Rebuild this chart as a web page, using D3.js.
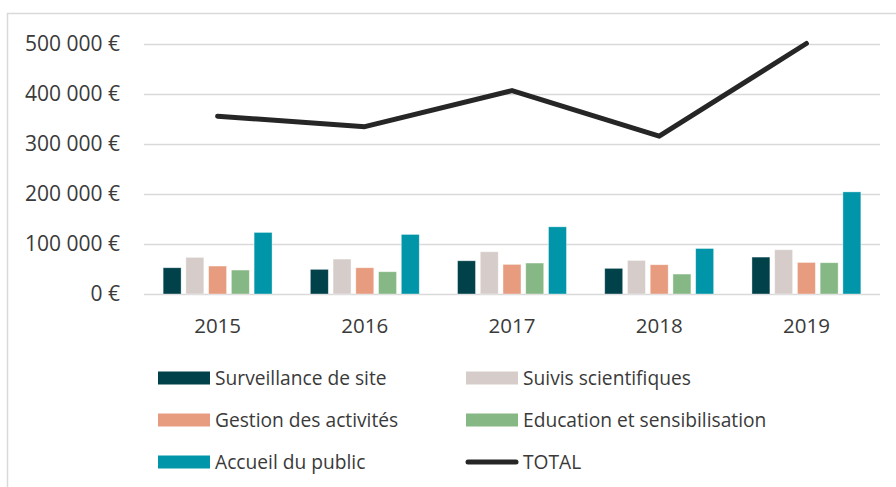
<!DOCTYPE html>
<html>
<head>
<meta charset="utf-8">
<script src="https://cdn.jsdelivr.net/npm/d3@7"></script>
<style>
  body { margin: 0; background: #fff; }
  svg { display: block; }
</style>
</head>
<body>
<script>
var annees = ["2015", "2016", "2017", "2018", "2019"];
var surveillance = [52400, 49200, 66300, 51200, 73700];
var suivis = [73100, 69700, 84300, 67000, 88300];
var gestion = [55800, 52400, 59100, 58400, 63000];
var education = [47800, 44400, 61800, 39800, 62400];
var accueil = [122900, 118900, 134100, 90800, 203800];
var total = [355000, 334000, 406000, 315000, 500000];
var ticksY = [0, 100000, 200000, 300000, 400000, 500000];

var series = [
    {nom: "Surveillance de site", valeurs: surveillance, couleur: "#01414a"},
    {nom: "Suivis scientifiques", valeurs: suivis, couleur: "#d6cdca"},
    {nom: "Gestion des activités", valeurs: gestion, couleur: "#e79c80"},
    {nom: "Education et sensibilisation", valeurs: education, couleur: "#85b884"},
    {nom: "Accueil du public", valeurs: accueil, couleur: "#0095a8"}
];

const w = 896, h = 487;
const gauche = 144, droite = 880, haut = 43.5, bas = 294;

var svg = d3.select("body").append("svg")
    .attr("width", w)
    .attr("height", h);

// cadre gris clair
svg.append("rect")
    .attr("x", 7.5).attr("y", 13.5)
    .attr("width", 1000).attr("height", 600)
    .attr("fill", "none")
    .attr("stroke", "#d9d9d9")
    .attr("stroke-width", 1.5);

const y = d3.scaleLinear()
    .domain([0, 500000])
    .range([bas, haut]);

const x0 = d3.scaleBand()
    .domain(annees)
    .range([gauche, droite])
    .paddingInner(0.26)
    .paddingOuter(0.13);

const x1 = d3.scaleBand()
    .domain(d3.range(series.length))
    .range([0, x0.bandwidth()])
    .paddingInner(0.21);

const fmt = function(d){
    return d3.format(",")(d).replace(/,/g, "\u00a0") + " €";
};

// grille
svg.append("g")
    .selectAll("line")
    .data(ticksY)
    .enter().append("line")
    .attr("x1", gauche)
    .attr("x2", droite)
    .attr("y1", function(d){ return Math.round(y(d)) + 0.5; })
    .attr("y2", function(d){ return Math.round(y(d)) + 0.5; })
    .attr("stroke", "#d9d9d9")
    .attr("stroke-width", 1.5);

// axe y (texte seulement)
const axeY = svg.append("g")
    .attr("transform", "translate(" + (gauche - 24) + ",0)")
    .call(d3.axisLeft(y).tickValues(ticksY).tickFormat(fmt).tickSize(0).tickPadding(0));
axeY.select(".domain").remove();
axeY.selectAll("text")
    .attr("font-family", "'Open Sans', sans-serif")
    .attr("font-size", 21)
    .attr("fill", "#3a3a3a");

// axe x
const axeX = svg.append("g")
    .attr("transform", "translate(0," + bas + ")")
    .call(d3.axisBottom(x0).tickSize(0).tickPadding(24));
axeX.select(".domain").remove();
axeX.selectAll("text")
    .attr("font-family", "'Open Sans', sans-serif")
    .attr("font-size", 20.5)
    .attr("fill", "#3a3a3a");

// barres
const groupes = svg.append("g")
    .selectAll("g")
    .data(series)
    .enter().append("g")
    .attr("fill", function(d){ return d.couleur; });

groupes.selectAll("rect")
    .data(function(d){ return d.valeurs; })
    .enter().append("rect")
    .attr("x", function(d, i){
        var s = d3.select(this.parentNode).datum();
        return x0(annees[i]) + x1(series.indexOf(s));
    })
    .attr("width", x1.bandwidth())
    .attr("y", function(d){ return y(d); })
    .attr("height", function(d){ return y(0) - y(d); })
    .attr("stroke", "#ffffff")
    .attr("stroke-opacity", 0.5)
    .attr("stroke-width", 0.75);

// ligne total
const ligne = d3.line()
    .x(function(d, i){ return x0(annees[i]) + x0.bandwidth() / 2; })
    .y(function(d){ return y(d); });

svg.append("path")
    .datum(total)
    .attr("d", ligne)
    .attr("fill", "none")
    .attr("stroke", "#262626")
    .attr("stroke-width", 5)
    .attr("stroke-linecap", "round")
    .attr("stroke-linejoin", "round");

// légende
const legendeItems = series.map(function(s){ return {nom: s.nom, couleur: s.couleur, type: "barre"}; });
legendeItems.push({nom: "TOTAL", couleur: "#262626", type: "ligne"});

const leg = svg.append("g")
    .selectAll("g")
    .data(legendeItems)
    .enter().append("g")
    .attr("transform", function(d, i){
        return "translate(" + (158 + (i % 2) * 308) + "," + (378 + Math.floor(i / 2) * 42) + ")";
    });

leg.filter(function(d){ return d.type == "barre"; })
    .append("rect")
    .attr("x", 0).attr("y", -6.5)
    .attr("width", 52).attr("height", 13)
    .attr("fill", function(d){ return d.couleur; });

leg.filter(function(d){ return d.type == "ligne"; })
    .append("line")
    .attr("x1", 2).attr("x2", 50)
    .attr("stroke", function(d){ return d.couleur; })
    .attr("stroke-width", 5)
    .attr("stroke-linecap", "round");

leg.append("text")
    .attr("x", 57)
    .attr("dy", "0.35em")
    .attr("font-family", "'Open Sans', sans-serif")
    .attr("font-size", 19.2)
    .attr("fill", "#3a3a3a")
    .text(function(d){ return d.nom; });
</script>
</body>
</html>
